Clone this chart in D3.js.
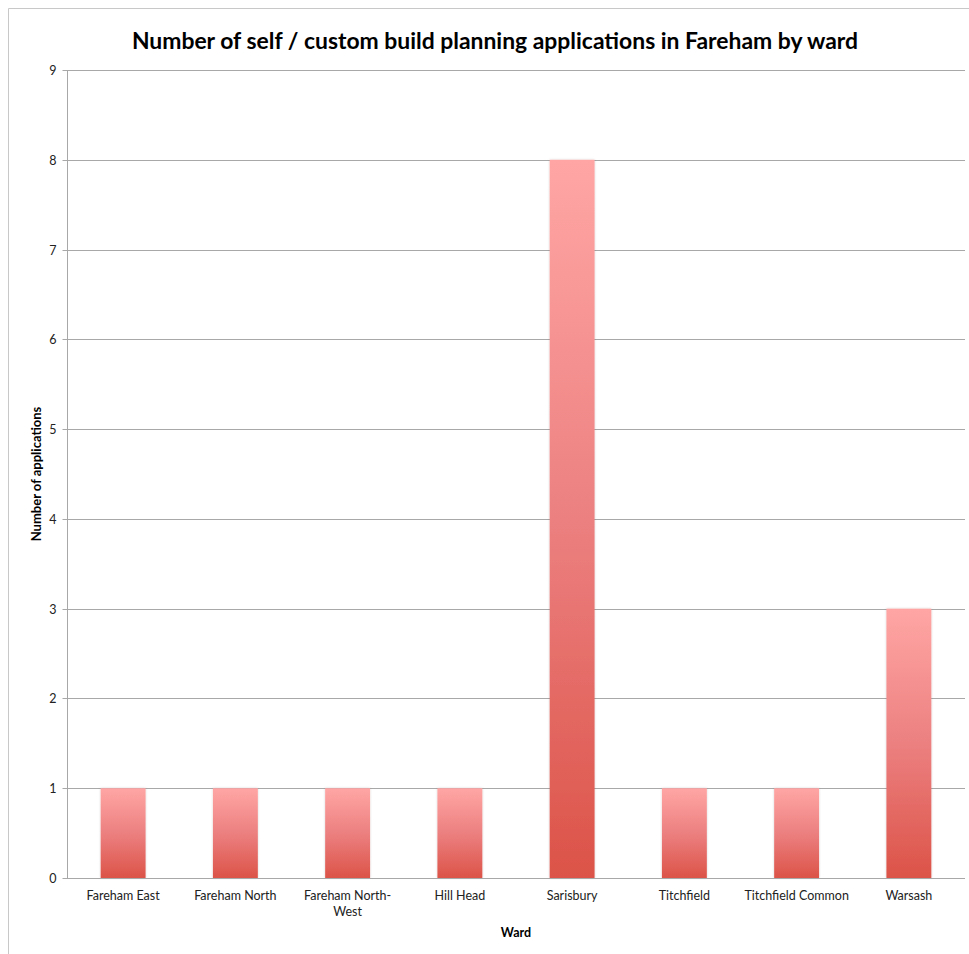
<!DOCTYPE html>
<html><head><meta charset="utf-8">
<script src="https://cdn.jsdelivr.net/npm/d3@7"></script>
<style>body{margin:0;background:#fff}svg{display:block;font-family:Lato,"Open Sans",sans-serif}</style>
</head><body><svg id="c" width="969" height="954"></svg>
<script>
const categories = ["Fareham East","Fareham North","Fareham North-West","Hill Head","Sarisbury","Titchfield","Titchfield Common","Warsash"];
const categoryLines = [["Fareham East"],["Fareham North"],["Fareham North-","West"],["Hill Head"],["Sarisbury"],["Titchfield"],["Titchfield Common"],["Warsash"]];
const values = [1,1,1,1,8,1,1,3];
const yTicks = [0,1,2,3,4,5,6,7,8,9];
const title = "Number of self / custom build planning applications in Fareham by ward";
const xTitle = "Ward";
const yTitle = "Number of applications";

const svg = d3.select("#c");
const m = {left:67, right:965, top:70, bottom:878};
const x = d3.scaleBand().domain(categories).range([m.left, m.right]).paddingInner(0.6).paddingOuter(0.3);
const y = d3.scaleLinear().domain([0,9]).range([m.bottom, m.top]);

// chart border
svg.append("path").attr("d","M8.5,954 V8.5 H969").attr("fill","none").attr("stroke","#c8c8c8").attr("stroke-width",1);

const defs = svg.append("defs");
const g = defs.append("linearGradient").attr("id","bg").attr("x1",0).attr("y1",0).attr("x2",0).attr("y2",1);
g.append("stop").attr("offset","0%").attr("stop-color","#ffa6a4");
g.append("stop").attr("offset","50%").attr("stop-color","#ec8080");
g.append("stop").attr("offset","100%").attr("stop-color","#dc5348");
const f = defs.append("filter").attr("id","sh").attr("x","-20%").attr("width","140%");
f.append("feDropShadow").attr("dx",0).attr("dy",0).attr("stdDeviation",1.2).attr("flood-color","#000").attr("flood-opacity",0.18);

// gridlines
svg.append("g").selectAll("line").data(yTicks.filter(d=>d>0)).join("line")
  .attr("x1",m.left).attr("x2",m.right).attr("y1",d=>Math.round(y(d))+0.5).attr("y2",d=>Math.round(y(d))+0.5)
  .attr("stroke","#a8a8a8").attr("stroke-width",1);

// y axis
const ya = svg.append("g").attr("transform",`translate(${m.left+0.5},0)`)
  .call(d3.axisLeft(y).tickValues(yTicks).tickSize(5).tickPadding(6).tickFormat(d3.format("d")));
ya.select(".domain").attr("stroke","#a8a8a8").attr("d",`M0,${m.top}V${m.bottom}`);
ya.selectAll(".tick line").attr("stroke","#a8a8a8");
ya.selectAll(".tick text").attr("font-size",12.5).attr("fill","#222").attr("font-family","Lato,sans-serif");
ya.selectAll(".tick").attr("transform",d=>`translate(0,${Math.round(y(d))+0.5})`);

// bars
svg.append("g").selectAll("rect").data(values).join("rect")
  .attr("x",(d,i)=>x(categories[i])).attr("width",x.bandwidth())
  .attr("y",d=>y(d)).attr("height",d=>y(0)-y(d))
  .attr("fill","url(#bg)").attr("filter","url(#sh)");

// x axis baseline
svg.append("line").attr("x1",m.left).attr("x2",m.right).attr("y1",m.bottom+0.5).attr("y2",m.bottom+0.5).attr("stroke","#a8a8a8");

// x labels
const xl = svg.append("g").selectAll("text").data(categoryLines).join("text")
  .attr("x",(d,i)=>x(categories[i])+x.bandwidth()/2).attr("y",900)
  .attr("text-anchor","middle").attr("font-size",12.5).attr("fill","#222");
xl.selectAll("tspan").data(d=>d).join("tspan").attr("x",function(){return this.parentNode.getAttribute("x");})
  .attr("dy",(d,i)=>i?16:0).text(d=>d);

// titles
svg.append("text").attr("x",495).attr("y",49).attr("text-anchor","middle").attr("font-size",22.9).attr("font-weight","bold").attr("fill","#000").text(title);
svg.append("text").attr("x",516).attr("y",937).attr("text-anchor","middle").attr("font-size",12.5).attr("font-weight","bold").attr("fill","#000").text(xTitle);
svg.append("text").attr("transform","translate(41,474) rotate(-90)").attr("text-anchor","middle").attr("font-size",13).attr("font-weight","bold").attr("fill","#000").text(yTitle);
</script></body></html>
